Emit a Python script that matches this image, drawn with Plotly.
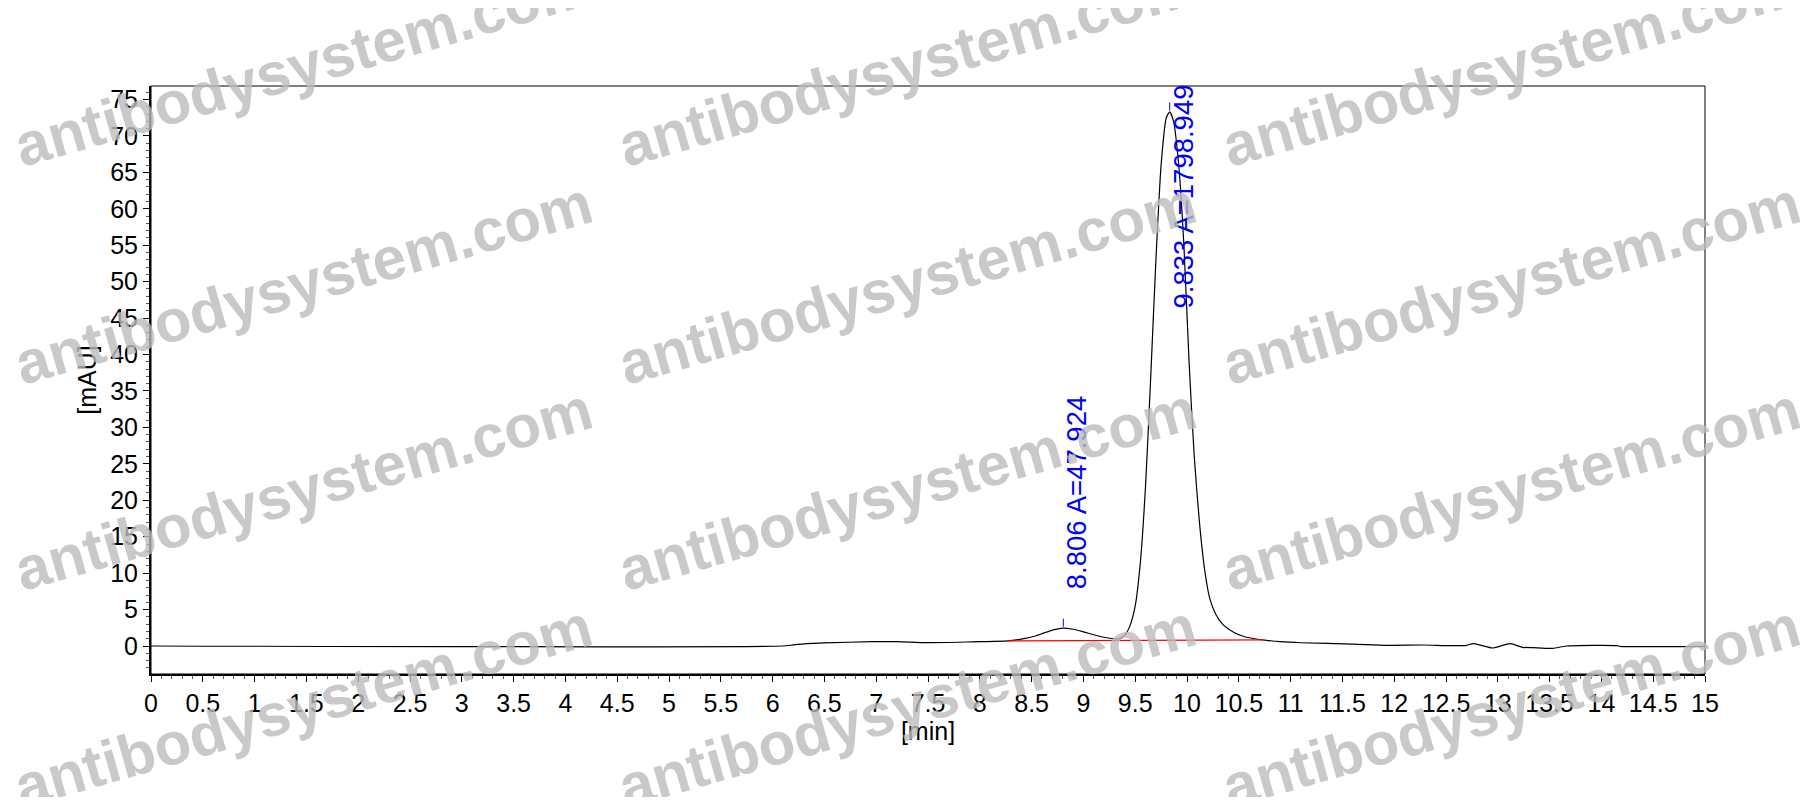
import plotly.graph_objects as go

# chromatogram trace (time in min, signal in mAU)
time_min = [0.0, 6.1, 6.2, 6.33, 6.5, 6.97, 7.2, 7.49, 7.87, 8.0, 8.27, 8.4, 8.52,
            8.62, 8.72, 8.806, 8.9, 9.0, 9.1, 9.2, 9.3, 9.35, 9.4, 9.45, 9.5, 9.55,
            9.6, 9.65, 9.7, 9.75, 9.8, 9.833, 9.87, 9.92, 9.97, 10.02, 10.07, 10.12,
            10.17, 10.22, 10.28, 10.35, 10.45, 10.55, 10.65, 10.75, 10.9, 11.1,
            11.6, 11.93, 12.28, 12.54, 12.7, 12.76, 12.84, 12.95, 13.12, 13.24,
            13.34, 13.53, 13.66, 14.15, 14.18, 15.0]
signal_mau = [0.0, 0.0, 0.15, 0.32, 0.42, 0.6, 0.6, 0.46, 0.55, 0.6, 0.7, 0.95, 1.3,
              1.8, 2.25, 2.45, 2.3, 1.95, 1.55, 1.2, 1.0, 1.0, 1.5, 2.8, 5.5, 11.5,
              22.0, 37.0, 53.0, 66.0, 72.5, 73.3, 72.0, 66.0, 55.0, 39.0, 26.0, 17.0,
              10.5, 6.5, 4.3, 2.9, 1.9, 1.3, 1.0, 0.8, 0.6, 0.45,
              0.27, 0.1, 0.14, 0.05, 0.09, 0.32, 0.09, -0.27, 0.32, -0.18,
              -0.23, -0.32, 0.0, 0.05, -0.05, -0.05]

# integration baseline (red)
baseline_min = [8.27, 10.73]
baseline_mau = [0.7, 0.85]

# peak table
peak_rt = [8.806, 9.833]
peak_height = [2.45, 73.3]
peak_area = [47.924, 1798.949]

x_ticks = [i * 0.5 for i in range(31)]
y_ticks = list(range(0, 80, 5))

FONT = "Arial, Liberation Sans, sans-serif"
# page body has an 8px margin, so the figure is a bit smaller than the window
W, H = 1796, 789
L, R, T, B = 143, 99, 78, 123

# plot area in screen pixels, used to place the watermark
PX0, PX1, PY0, PY1 = 151, 1705, 86, 674

fig = go.Figure()

fig.add_trace(go.Scatter(x=time_min, y=signal_mau, mode="lines",
                         line=dict(color="black", width=1.2, shape="spline", smoothing=0.6),
                         hoverinfo="x+y", showlegend=False))
fig.add_trace(go.Scatter(x=baseline_min, y=baseline_mau, mode="lines",
                         line=dict(color="red", width=1.2), showlegend=False))

# little blue marks on the peak apexes
mark_x, mark_y = [], []
for rt, h in zip(peak_rt, peak_height):
    mark_x += [rt, rt, None]
    mark_y += [h + 0.2, h + 1.3, None]
fig.add_trace(go.Scatter(x=mark_x, y=mark_y, mode="lines",
                         line=dict(color="blue", width=1), showlegend=False))

label_bottom = [7.7, 46.2]
for rt, area, yb in zip(peak_rt, peak_area, label_bottom):
    fig.add_annotation(x=rt, y=yb, xref="x", yref="y",
                       text="{:.3f} A={:.3f}".format(rt, area),
                       textangle=-90, showarrow=False, xshift=-3,
                       xanchor="left", yanchor="bottom", borderpad=0,
                       font=dict(family=FONT, size=27.5, color="blue"))

# watermark grid (screen pixel centres)
wm_cols = [303, 907, 1511]
wm_rows = [66, 283, 489, 707]
for py in wm_rows:
    for px in wm_cols:
        fig.add_annotation(x=(px - PX0) / (PX1 - PX0), y=(PY1 - py) / (PY1 - PY0),
                           xref="paper", yref="paper", text="antibodysystem.com",
                           xanchor="center", yanchor="middle",
                           textangle=-16, showarrow=False, opacity=0.8,
                           font=dict(family=FONT, size=60, color="#bcbcbc", weight="bold"))

# frame
fig.add_shape(type="rect", xref="paper", yref="paper", x0=0, y0=0, x1=1, y1=1,
              line=dict(color="black", width=1))

fig.update_layout(
    width=W, height=H,
    margin=dict(l=L, r=R, t=T, b=B),
    paper_bgcolor="white", plot_bgcolor="white",
    font=dict(family=FONT, size=25, color="black"),
    xaxis=dict(range=[0, 15], tickvals=x_ticks, ticktext=["{:g}".format(v) for v in x_ticks],
               ticks="outside", ticklen=6, tickcolor="black", showgrid=False, zeroline=False,
               showline=True, linecolor="black", linewidth=2,
               minor=dict(dtick=0.1, tick0=0, ticks="outside", ticklen=3, tickcolor="#555"),
               title=dict(text="[min]", standoff=4, font=dict(size=25))),
    yaxis=dict(range=[-3.84, 76.85], tickvals=y_ticks,
               ticks="outside", ticklen=6, tickcolor="black", showgrid=False, zeroline=False,
               showline=True, linecolor="black", linewidth=2,
               minor=dict(dtick=1, tick0=0, ticks="outside", ticklen=3, tickcolor="#555"),
               title=dict(text="[mAU]", standoff=6, font=dict(size=25))),
)

fig.write_html("out.html")
